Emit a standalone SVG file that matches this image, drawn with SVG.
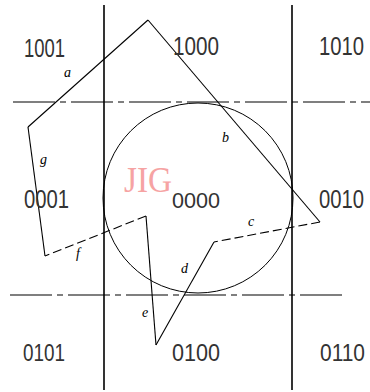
<svg xmlns="http://www.w3.org/2000/svg" width="370" height="392" viewBox="0 0 370 392">
<style>
.bg{fill:#ffffff}
.vl{stroke:#000;stroke-width:1.6;fill:none}
.hl{stroke:#000;stroke-width:1.1;fill:none;stroke-dasharray:42 5 6 5}
.cir{stroke:#000;stroke-width:1;fill:none}
.ed{stroke:#000;stroke-width:1.1;fill:none}
.dash{stroke:#000;stroke-width:1.1;fill:none;stroke-dasharray:9 4}
.code{font-family:"Liberation Sans",Arial,sans-serif;font-size:21px;fill:#333}
.lab{font-family:"Liberation Serif","Times New Roman",serif;font-style:italic;font-size:14px;fill:#000}
.wm{font-family:"Liberation Serif","Times New Roman",serif;font-size:36px;fill:#f6a3a3}
</style>
<rect class="bg" x="0" y="0" width="370" height="392"/>
<g id="grid">
<line class="vl" x1="104" y1="5" x2="104" y2="390"/>
<line class="vl" x1="292" y1="5" x2="292" y2="390"/>
<line class="hl" x1="13" y1="102" x2="370" y2="102"/>
<line class="hl" x1="10" y1="295" x2="347" y2="295"/>
</g>
<g id="watermark"><text class="wm" x="124" y="192" textLength="48" lengthAdjust="spacingAndGlyphs">JIG</text></g>
<g id="window"><circle class="cir" cx="198" cy="198" r="95"/></g>
<g id="connectors">
<line id="edge-a" class="ed" x1="28" y1="127" x2="148" y2="20"/>
<line id="edge-b" class="ed" x1="148" y1="20" x2="320" y2="222"/>
<line id="edge-c" class="dash" x1="320" y1="222" x2="214" y2="242"/>
<line id="edge-d" class="ed" x1="214" y1="242" x2="156" y2="345"/>
<line id="edge-e" class="ed" x1="156" y1="345" x2="146" y2="216"/>
<line id="edge-f" class="dash" x1="146" y1="216" x2="45" y2="256"/>
<line id="edge-g" class="ed" x1="45" y1="256" x2="28" y2="127"/>
</g>
<g id="edge-labels">
<text class="lab" x="64" y="77">a</text>
<text class="lab" x="222" y="142">b</text>
<text class="lab" x="248" y="226">c</text>
<text class="lab" x="181" y="273">d</text>
<text class="lab" x="142" y="317">e</text>
<text class="lab" x="76" y="258">f</text>
<text class="lab" x="40" y="164">g</text>
</g>
<g id="codes">
<text class="code" transform="translate(24,57) scale(1,1.22)" textLength="41" lengthAdjust="spacingAndGlyphs">1001</text>
<text class="code" transform="translate(173,55) scale(1,1.22)" textLength="46" lengthAdjust="spacingAndGlyphs">1000</text>
<text class="code" transform="translate(319,55) scale(1,1.22)" textLength="45" lengthAdjust="spacingAndGlyphs">1010</text>
<text class="code" transform="translate(24,208) scale(1,1.22)" textLength="45" lengthAdjust="spacingAndGlyphs">0001</text>
<text class="code" transform="translate(172,208) scale(1,1.05)" textLength="48" lengthAdjust="spacingAndGlyphs">0000</text>
<text class="code" transform="translate(319,208) scale(1,1.22)" textLength="45" lengthAdjust="spacingAndGlyphs">0010</text>
<text class="code" transform="translate(23,361) scale(1,1.15)" textLength="42" lengthAdjust="spacingAndGlyphs">0101</text>
<text class="code" transform="translate(172,361) scale(1,1.15)" textLength="48" lengthAdjust="spacingAndGlyphs">0100</text>
<text class="code" transform="translate(320,361) scale(1,1.15)" textLength="45" lengthAdjust="spacingAndGlyphs">0110</text>
</g>
</svg>
